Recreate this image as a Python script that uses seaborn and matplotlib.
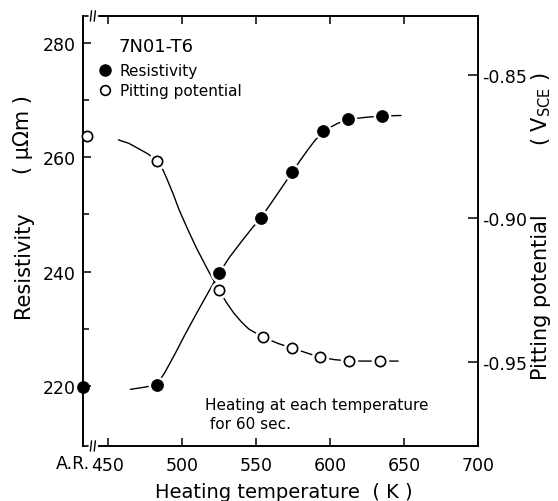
import matplotlib
matplotlib.use("Agg")
import matplotlib.pyplot as plt
import seaborn as sns
from matplotlib.lines import Line2D

# measured points (A.R. = as received, placed at left edge)
temp_res = [433, 483, 525, 553, 574, 595, 612, 635]
resistivity = [219.8, 220.2, 239.7, 249.3, 257.4, 264.5, 266.6, 267.2]

temp_pit = [436, 483, 525, 555, 574, 593, 613, 634]
pitting = [-0.8713, -0.8800, -0.9250, -0.9413, -0.9451, -0.9483, -0.9497, -0.9497]

# hand drawn guide curves
res_curve_t = [465, 470, 475, 479, 483, 488, 495, 502, 510, 518, 525, 532, 540, 547, 553,
               560, 565, 570, 574, 580, 585, 590, 595, 600, 605, 610, 615, 625, 635, 648]
res_curve = [219.4, 219.6, 219.8, 220.0, 220.3, 222.2, 225.5, 229.0, 232.8, 236.5, 239.7,
             242.5, 245.2, 247.5, 249.3, 251.9, 253.8, 255.7, 257.2, 259.5, 261.3, 263.0,
             264.3, 265.2, 265.9, 266.4, 266.7, 267.0, 267.2, 267.3]

pit_curve_t = [457, 464, 470, 477, 483, 487, 490, 494, 498, 504, 510, 518, 525, 530, 535,
               540, 545, 550, 555, 560, 565, 574, 585, 593, 603, 613, 624, 634, 646]
pit_curve = [-0.8726, -0.8738, -0.8755, -0.8775, -0.8800, -0.8830, -0.8865, -0.8915,
             -0.8970, -0.9040, -0.9106, -0.9185, -0.9250, -0.9293, -0.9330, -0.9360,
             -0.9385, -0.9400, -0.9413, -0.9425, -0.9436, -0.9451, -0.9470, -0.9483,
             -0.9492, -0.9497, -0.9497, -0.9497, -0.9497]

x_ticks = [450, 500, 550, 600, 650, 700]
res_ticks = [220, 240, 260, 280]
res_minor = [230, 250, 270]
pit_ticks = [-0.95, -0.90, -0.85]

sns.set_style("ticks")
plt.rcParams["font.family"] = ["DejaVu Sans"]
plt.rcParams["axes.unicode_minus"] = False
for k in ["text.color", "axes.labelcolor", "xtick.color", "ytick.color", "axes.edgecolor"]:
    plt.rcParams[k] = "black"

fig = plt.figure(figsize=(5.58, 5.02), dpi=100)
ax = fig.add_axes([0.1487, 0.1096, 0.7079, 0.8566])
ax2 = ax.twinx()

# curves
sns.lineplot(x=res_curve_t, y=res_curve, ax=ax, color="black", lw=1.0,
             sort=False, estimator=None)
sns.lineplot(x=pit_curve_t, y=pit_curve, ax=ax2, color="black", lw=1.0,
             sort=False, estimator=None)

# white halos so the curves stop short of the markers
sns.scatterplot(x=temp_pit[1:], y=pitting[1:], ax=ax2, s=160, color="white",
                linewidth=0, zorder=3, clip_on=False)
sns.scatterplot(x=temp_res[1:], y=resistivity[1:], ax=ax2, transform=ax.transData,
                s=160, color="white", linewidth=0, zorder=3, clip_on=False)

# markers
sns.scatterplot(x=temp_pit, y=pitting, ax=ax2, s=55, color="white",
                edgecolor="black", linewidth=1.2, zorder=4, clip_on=False)
sns.scatterplot(x=temp_res, y=resistivity, ax=ax2, transform=ax.transData,
                s=75, color="black", edgecolor="black", linewidth=0.5, zorder=5, clip_on=False)

# limits
ax.set_xlim(433, 700)
ax.set_ylim(209.5, 284.7)
ax2.set_ylim(-0.9793, -0.8294)

# ticks
ax.set_xticks(x_ticks)
ax.set_xticklabels([str(t) for t in x_ticks], fontsize=12.5)
ax.set_yticks(res_ticks)
ax.set_yticks(res_minor, minor=True)
ax.set_yticklabels([str(t) for t in res_ticks], fontsize=12.5)
ax.tick_params(axis="both", which="major", direction="in", length=6, width=1.1, pad=5,
               top=True, right=False)
ax.tick_params(axis="y", which="minor", direction="in", length=4, width=1.1)
ax.tick_params(axis="x", pad=7)
ax2.set_yticks(pit_ticks)
ax2.set_yticklabels(["%.2f" % t for t in pit_ticks], fontsize=12.5)
ax2.tick_params(axis="y", direction="in", length=7, width=1.1, pad=3)
ax.set_xlabel("")
ax.set_ylabel("")
ax2.set_ylabel("")

# A.R. label
ax.text(438, -0.018, "A.R.", transform=ax.get_xaxis_transform(), ha="right", va="top",
        fontsize=12.5)

# spines with the axis break next to A.R.
for s in ["left", "right", "top", "bottom"]:
    ax.spines[s].set_linewidth(1.2)
    ax2.spines[s].set_linewidth(1.2)
for a in [ax, ax2]:
    a.spines["bottom"].set_bounds(443.8, 700)
    a.spines["top"].set_bounds(443.8, 700)
for yy in [0, 1]:
    tr = ax.get_xaxis_transform()
    ax.plot([433, 436.6], [yy, yy], color="black", lw=1.2, transform=tr, clip_on=False)
    for bx in [438.4, 441.0]:
        ax.plot([bx - 0.4, bx + 0.4], [yy - 0.012, yy + 0.012], color="black", lw=1.0,
                transform=tr, clip_on=False)

# labels
fig.text(0.508, 0.018, "Heating temperature  ( K )", ha="center", va="center", fontsize=14)
fig.text(0.042, 1 - 265 / 502, "Resistivity", rotation=90, ha="center", va="center", fontsize=15)
fig.text(0.042, 1 - 135 / 502, "( μΩm )", rotation=90, ha="center", va="center", fontsize=15)
fig.text(0.970, 1 - 297 / 502, "Pitting potential", rotation=90, ha="center", va="center", fontsize=15)
fig.text(0.970, 1 - 109 / 502, "( V$_{\\rm SCE}$ )", rotation=90, ha="center", va="center", fontsize=15)

# legend block
ax2.text(0.089, 0.930, "7N01-T6", transform=ax2.transAxes, fontsize=13, va="center")
handles = [
    Line2D([], [], ls="none", marker="o", ms=8, color="black"),
    Line2D([], [], ls="none", marker="o", ms=7, mfc="white", mec="black", mew=1.2),
]
ax2.legend(handles, ["Resistivity", "Pitting potential"], loc="upper left",
           bbox_to_anchor=(0.02, 0.905), frameon=False, fontsize=11,
           handlelength=1.0, handletextpad=0.5, labelspacing=0.35, borderaxespad=0)

ax2.text(0.309, 0.075, "Heating at each temperature\n for 60 sec.", transform=ax2.transAxes,
         fontsize=11, va="center", ha="left", linespacing=1.3)

fig.savefig("out.png", dpi=100)
